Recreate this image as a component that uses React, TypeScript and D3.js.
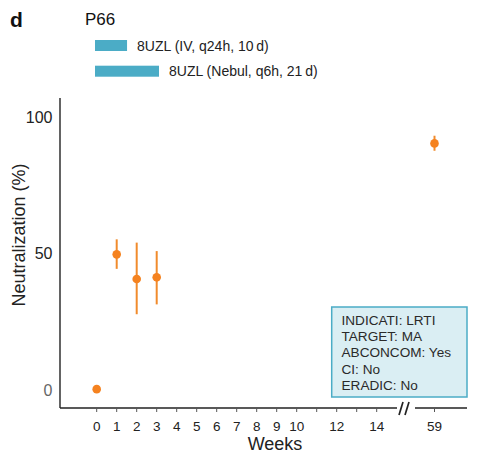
import React from "react";
import * as d3 from "d3";

// Neutralization time course for patient P66
const weeks = [0, 1, 2, 3, 59];
const means = [0.5, 49.8, 40.8, 41.4, 90.4];
const lows = [0.5, 44.5, 27.9, 31.5, 87.7];
const highs = [0.5, 55.3, 54.1, 51.0, 93.2];

const tickWeeks = [0, 1, 2, 3, 4, 5, 6, 7, 8, 9, 10, 11, 12, 13, 14, 59];
const labelledWeeks = [0, 1, 2, 3, 4, 5, 6, 7, 8, 9, 10, 12, 14, 59];
const yTicks = [0, 50, 100];

const treatments = ["8UZL (IV, q24h, 10\u2009d)", "8UZL (Nebul, q6h, 21\u2009d)"];
const treatmentDays = [10, 21];

const infoLines = ["INDICATI: LRTI", "TARGET: MA", "ABCONCOM: Yes", "CI: No", "ERADIC: No"];

const W = 487;
const H = 453;
const FONT = "'Liberation Sans', Arial, Helvetica, sans-serif";
const ORANGE = "#F5821F";
const ORANGE_BAR = "#F18B2C";
const TEAL = "#4BACC6";

export default function App() {
  // broken x axis: weeks 0–14 evenly spaced, then a jump to week 59
  const x = d3.scaleLinear().domain([0, 14, 59]).range([96.7, 376.7, 434.5]);
  const y = d3.scaleLinear().domain([0, 107]).range([390.5, 98]);
  const barW = d3.scaleLinear().domain([0, 21]).range([3, 64]);

  const axisY = 408;
  const axisX = 60;
  const breakL = 397;
  const breakR = 415;

  return (
    <svg
      width={W}
      height={H}
      style={{ position: "absolute", left: 0, top: 0, background: "#fff" }}
      fontFamily={FONT}
    >
      {/* panel letter and title */}
      <text x={10} y={27} fontSize={21} fontWeight="bold" fill="#111">d</text>
      <text x={85} y={25} fontSize={17} fill="#111">P66</text>

      {/* treatment legend */}
      {treatments.map((t, i) => (
        <g key={t}>
          <rect x={95} y={40 + i * 25.7} width={barW(treatmentDays[i])} height={11} fill={TEAL} />
          <text x={95 + barW(treatmentDays[i]) + 10} y={50.5 + i * 25.7} fontSize={14} fill="#222">{t}</text>
        </g>
      ))}

      {/* y axis */}
      <line x1={axisX} x2={axisX} y1={98} y2={axisY} stroke="#222" strokeWidth={1.4} />
      {yTicks.map((t) => (
        <text
          key={t}
          x={52.5}
          y={y(t) + 5.5}
          textAnchor="end"
          fontSize={16}
          fill={t === 0 ? "#666" : "#222"}
        >
          {t}
        </text>
      ))}
      <text
        transform={`translate(25,${235}) rotate(-90)`}
        textAnchor="middle"
        fontSize={18}
        fill="#222"
      >
        Neutralization (%)
      </text>

      {/* x axis with break */}
      <line x1={axisX} x2={breakL} y1={axisY} y2={axisY} stroke="#222" strokeWidth={1.4} />
      <line x1={breakR} x2={467} y1={axisY} y2={axisY} stroke="#222" strokeWidth={1.4} />
      <line x1={399} x2={403} y1={415} y2={402} stroke="#222" strokeWidth={1.7} />
      <line x1={405} x2={409} y1={415} y2={402} stroke="#222" strokeWidth={1.7} />
      {tickWeeks.map((w) => (
        <line key={w} x1={x(w)} x2={x(w)} y1={axisY} y2={axisY + 4} stroke="#555" strokeWidth={1} />
      ))}
      {labelledWeeks.map((w) => (
        <text key={w} x={x(w)} y={431} textAnchor="middle" fontSize={13.5} fill="#222">
          {w}
        </text>
      ))}
      <text x={275} y={450} textAnchor="middle" fontSize={18} fill="#222">Weeks</text>

      {/* error bars and points */}
      {weeks.map((w, i) => (
        <g key={w}>
          {highs[i] !== lows[i] && (
            <line
              x1={x(w)}
              x2={x(w)}
              y1={y(highs[i])}
              y2={y(lows[i])}
              stroke={ORANGE_BAR}
              strokeWidth={2}
            />
          )}
          <circle cx={x(w)} cy={y(means[i])} r={4.3} fill={ORANGE} />
        </g>
      ))}

      {/* patient info box */}
      <rect x={331.7} y={307} width={135.3} height={90} fill="#DAEEF3" stroke={TEAL} strokeWidth={1.5} />
      {infoLines.map((l, i) => (
        <text key={l} x={341.5} y={325 + i * 16.2} fontSize={13.6} fill="#2a2a2a">
          {l}
        </text>
      ))}
    </svg>
  );
}
